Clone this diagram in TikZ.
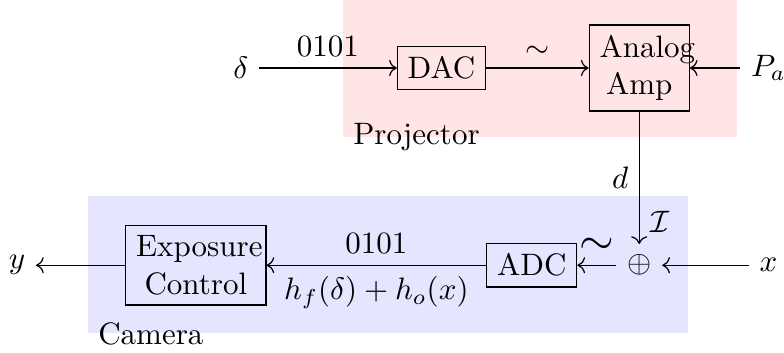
\documentclass[tikz,border=0pt]{standalone}
\usepackage{amsmath, amssymb}
\usepackage{xcolor}
\usepackage{tikz}
\usetikzlibrary{positioning, arrows.meta, fit, backgrounds}

\colorlet{projfill}{red!10}
\colorlet{camfill}{blue!10}

\begin{document}
\begin{tikzpicture}[node distance=1cm, auto,
    block/.style={rectangle, draw},
    twoline/.style={block, align=center}]
    \useasboundingbox (0,0) rectangle (8.889,-4.002);

    % projector side
    \node[block] (dac) at (5.006,-0.771) {DAC};
    \node (delta) [left=1.56cm of dac] {$\delta$};
    \node[twoline, text width=0.9cm, right=1.16cm of dac] (amp) {Analog Amp};
    \node (pa) [right=0.57cm of amp] {$P_a$};

    % camera side
    \node (plus) [below=1.5cm of amp] {$\oplus$};
    \node (xin) [right=0.98cm of plus] {$x$};
    \node[block, left=0.44cm of plus] (adc) {ADC};
    \node[twoline, text width=1.355cm, left=2.49cm of adc] (expo) {Exposure Control};
    \node (yout) [left=1.01cm of expo] {$y$};

    \draw[->] (delta) -- node[above] {0101} (dac);
    \draw[->] (dac) -- node[above] {$\sim$} (amp);
    \draw[->] (pa) -- (amp);
    \draw[->] (amp) -- node[left] {$d$} node[pos=0.83, right] {$\mathcal{I}$} (plus);
    \draw[->] (xin) -- (plus);
    \draw[->] (plus) -- node[above] {\Large$\sim$} (adc);
    \draw[->] (adc) -- node[above] {0101} node[below] {$h_f(\delta)+h_o(x)$} (expo);
    \draw[->] (expo) -- (yout);

    \begin{scope}[on background layer]
        \node[fit={(3.889,0) (8.356,-1.553)}, inner sep=0, fill=projfill,
              label={[anchor=west]south west:Projector}] (proj) {};
        \node[fit={(0.998,-2.222) (7.8,-3.776)}, inner sep=0, fill=camfill,
              label={[anchor=west]south west:Camera}] (cam) {};
    \end{scope}
\end{tikzpicture}
\end{document}
